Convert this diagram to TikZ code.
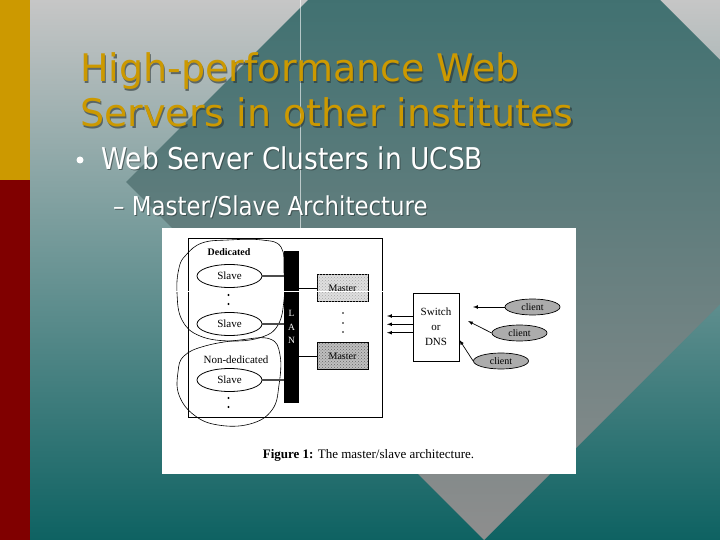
\documentclass[tikz,border=0pt]{standalone}
\usepackage{fontspec}
\usepackage{tikz}
\usetikzlibrary{arrows,shapes.geometric,positioning,patterns}
\newfontfamily\slidefont{DejaVu Sans}
\newfontfamily\bodyfont{DejaVu Sans}[FakeStretch=0.88]
\newfontfamily\figfont{Liberation Serif}
\definecolor{goldbar}{RGB}{204, 153, 0}
\definecolor{darkred}{RGB}{128, 0, 0}
\definecolor{bgtop}{RGB}{198, 198, 198}
\definecolor{bgmid}{RGB}{138, 152, 152}
\definecolor{bgbot}{RGB}{14, 98, 98}
\definecolor{diatop}{RGB}{40, 104, 104}
\definecolor{diamid}{RGB}{96, 126, 126}
\definecolor{diabot}{RGB}{142, 142, 142}
\definecolor{textshadow}{RGB}{40, 50, 50}

\begin{document}
\begin{tikzpicture}[x=1pt, y=-1pt,
        slidetitle/.style={anchor=base west, inner sep=0pt, text=goldbar, font=\slidefont\fontsize{38}{45}\selectfont},
        bullettext/.style={anchor=base west, inner sep=0pt, text=white, font=\bodyfont\fontsize{30}{36}\selectfont},
        subtext/.style={anchor=base west, inner sep=0pt, text=white, font=\bodyfont\fontsize{26}{31}\selectfont},
        shadowed/.style={text=textshadow, opacity=0.6},
        slavenode/.style={ellipse, draw, fill=white, line width=0.8pt, minimum width=65pt, minimum height=23pt, inner sep=0pt, font=\figfont\fontsize{11}{12}\selectfont},
        masterbox/.style={draw, line width=0.6pt, minimum width=51pt, minimum height=27pt, inner sep=0pt, font=\figfont\fontsize{10}{11}\selectfont},
        clientnode/.style={ellipse, draw, fill=gray!65, line width=0.7pt, minimum width=55pt, minimum height=16pt, inner sep=0pt, font=\figfont\fontsize{10}{11}\selectfont},
        grouplabel/.style={inner sep=0pt, font=\figfont\fontsize{11}{13}\selectfont},
        lanlink/.style={gray!60!black, line width=1.1pt},
        flow/.style={-latex, line width=0.7pt}]

    % slide background
    \useasboundingbox (0,0) rectangle (720,540);
    \clip (0,0) rectangle (720,540);
    \shade[top color=bgtop, middle color=bgmid, bottom color=bgbot] (0,0) rectangle (720,540);
    \shade[top color=diatop, middle color=diamid, bottom color=diabot]
        (484,-176) -- (842,182) -- (484,540) -- (126,182) -- cycle;
    \fill[goldbar] (0,0)   rectangle (30,180);
    \fill[darkred] (0,180) rectangle (30,540);
    \draw[white, opacity=0.6, line width=0.8pt] (300,0) -- (300,228);

    % title and bullets
    \node[slidetitle, shadowed] at (81.5,83.5)  {High-performance Web};
    \node[slidetitle, shadowed] at (81.5,128.5) {Servers in other institutes};
    \node[slidetitle] (title1) at (80,82)  {High-performance Web};
    \node[slidetitle] (title2) at (80,127) {Servers in other institutes};
    \node[circle, fill=white, inner sep=0pt, minimum size=7pt] (dot) at (80,160) {};
    \node[bullettext, shadowed] at (102,171) {Web Server Clusters in UCSB};
    \node[bullettext] (point) at (101,170) {Web Server Clusters in UCSB};
    \node[subtext, shadowed] at (114,216) {– Master/Slave Architecture};
    \node[subtext] (subpoint) at (113,215) {– Master/Slave Architecture};

    % figure
    \fill[white] (162,228) rectangle (576,474);
    \draw[line width=0.7pt] (188,238) rectangle (382,417);

    % dedicated and non-dedicated groups
    \draw[line width=0.6pt] plot[smooth cycle, tension=0.7] coordinates {
        (186,255) (202,243) (228,240) (262,240) (281,247) (284,272)
        (284,300) (278,325) (262,337) (232,341) (200,336) (182,320) (177,293) (179,268)};
    \draw[line width=0.6pt] plot[smooth cycle, tension=0.7] coordinates {
        (184,356) (205,346) (240,340) (270,339) (280,355) (279,385)
        (272,410) (250,424) (218,425) (194,415) (179,395) (178,372)};
    \node[grouplabel, font=\figfont\bfseries\fontsize{10}{12}\selectfont] (dedicated) at (229,252) {Dedicated};
    \node[grouplabel] (nondedicated) at (236,360) {Non-dedicated};

    % LAN bar
    \node[fill=black, minimum width=15pt, minimum height=152pt, inner sep=0pt, align=center,
          text=white, font=\figfont\fontsize{9.5}{13.5}\selectfont] (lan) at (291.5,327) {L\\A\\N};

    % slaves
    \node[slavenode] (slave1) at (229.5,276) {Slave};
    \node[slavenode] (slave2) at (229.5,324) {Slave};
    \node[slavenode] (slave3) at (229.5,380) {Slave};
    \draw[lanlink] (slave1.east) -- (slave1.east -| lan.west);
    \draw[lanlink] (slave2.east) -- (slave2.east -| lan.west);
    \draw[lanlink] (slave3.east) -- (slave3.east -| lan.west);
    \foreach \y in {295,304,398,407}
        \fill (228.5,\y) circle (1.1pt);

    % masters
    \node[masterbox, fill=gray!25, postaction={pattern=crosshatch dots, pattern color=gray!70}] (master1) at (342.5,288) {Master};
    \node[masterbox, fill=gray!50, postaction={pattern=crosshatch dots, pattern color=gray!80!black}] (master2) at (342.5,356) {Master};
    \draw[line width=0.7pt] (master1.west -| lan.east) -- (master1.west);
    \draw[line width=0.7pt] (master2.west -| lan.east) -- (master2.west);
    \foreach \y in {313,323,332}
        \fill (343,\y) circle (0.8pt);

    % switch and clients
    \node[draw, line width=0.6pt, minimum width=46pt, minimum height=68pt, align=center,
          font=\figfont\fontsize{11}{15}\selectfont] (switch) at (436,327) {Switch\\or\\DNS};
    \coordinate (out1) at (387,316);
    \coordinate (out2) at (387,324.3);
    \coordinate (out3) at (387,332.7);
    \draw[flow] (out1 -| switch.west) -- (out1);
    \draw[flow] (out2 -| switch.west) -- (out2);
    \draw[flow] (out3 -| switch.west) -- (out3);

    \node[clientnode] (client1) at (532.5,307) {client};
    \node[clientnode] (client2) at (519.5,333) {client};
    \node[clientnode] (client3) at (501,361)   {client};
    \coordinate (in1) at (473,307);
    \coordinate (in2) at (468,321);
    \coordinate (in3) at (459.5,340);
    \draw[flow] (client1.west) -- (in1);
    \draw[flow] (client2.west) -- (in2);
    \draw[flow] (client3.west) -- (in3);

    \node[font=\figfont\fontsize{13}{15}\selectfont, inner sep=0pt] (caption) at (368.5,455)
        {\textbf{Figure 1:} The master/slave architecture.};

    \draw[white, line width=0.8pt] (163,291) -- (383,291);
\end{tikzpicture}
\end{document}
